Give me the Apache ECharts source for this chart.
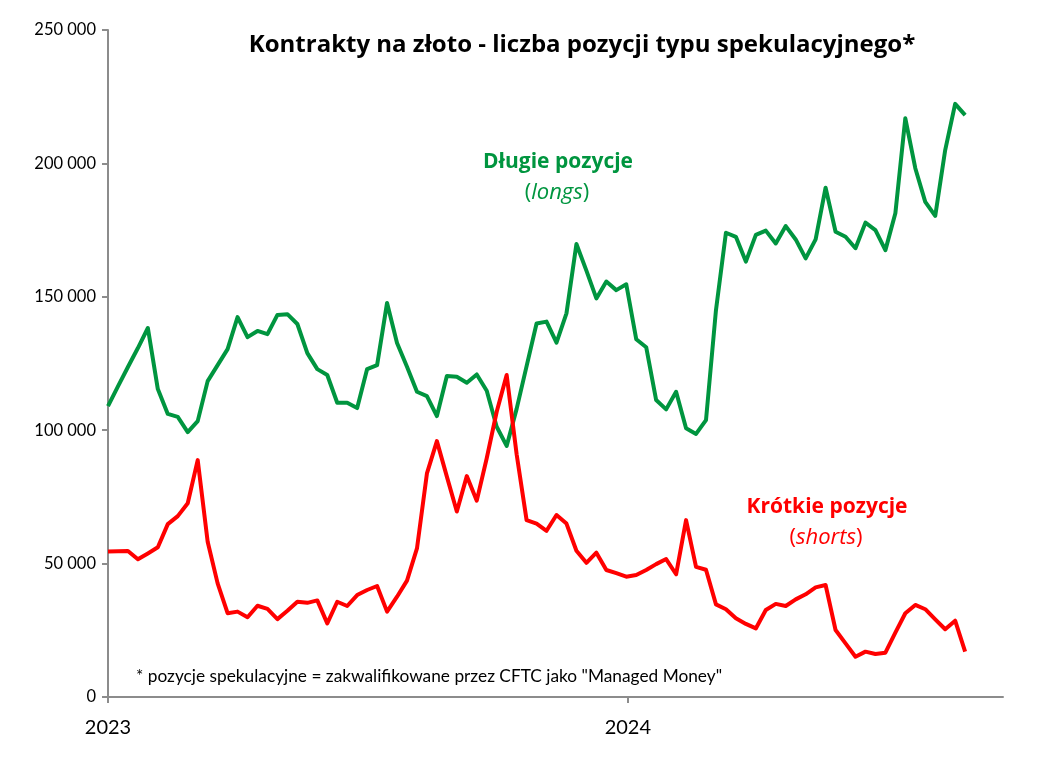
<!DOCTYPE html>
<html>
<head>
<meta charset="utf-8">
<script src="https://cdn.jsdelivr.net/npm/echarts@6/dist/echarts.min.js"></script>
<style>
html,body{margin:0;padding:0;background:#fff;}
#chart{width:1063px;height:768px;}
</style>
</head>
<body>
<div id="chart"></div>
<script>
// Weekly values, starting first week of 2023
const longs = [109000,116400,123700,130800,138300,115400,106100,105000,99300,103400,
118400,124400,130400,142400,134900,137200,136000,143200,143500,139800,
128900,122900,120700,110300,110300,108300,122900,124400,147700,132700,
123800,114400,112800,105300,120300,120000,117800,120900,114800,101300,
94100,108000,124000,140000,140700,132800,143800,169800,159800,149400,
155700,152500,154700,134100,131100,111300,107800,114400,100700,98600,
103800,145000,174000,172500,163200,173200,174800,170000,176500,171500,
164400,171500,190900,174400,172500,168200,177800,175000,167500,181300,
216900,198200,185600,180300,205000,222300,218100];
const shorts = [54500,54600,54700,51600,53800,56100,64800,67800,72600,88800,
58200,42600,31400,32000,29900,34200,33000,29200,32300,35700,
35300,36200,27600,35700,34100,38200,40100,41600,32000,37600,
43600,55700,83800,95900,82600,69500,82800,73600,89500,106900,
120700,91000,66300,65000,62300,68200,65000,54800,50300,54100,
47600,46400,45100,45700,47600,49800,51700,46000,66300,48800,
47700,34700,32900,29500,27400,25700,32600,34900,34100,36600,
38500,41100,42000,25100,20100,15100,17000,16100,16600,24100,
31400,34500,32900,29100,25400,28600,17000];
const yearTickPos = [0, 52.16];   // week index of 1 Jan
const yearLabels = ['2023', '2024'];

const GREEN = '#00953f';
const RED = '#ff0000';
const FONT = 'Lato, "Open Sans", sans-serif';
const FONT2 = '"Open Sans", Lato, sans-serif';

const chart = echarts.init(document.getElementById('chart'));
chart.setOption({
  backgroundColor: '#fff',
  animation: false,
  grid: {left: 108, right: 60, top: 30, bottom: 71},
  xAxis: {
    type: 'value', min: 0, max: 89.8,
    axisLine: {show: true, onZero: false, lineStyle: {color: '#8c8c8c', width: 2}},
    axisTick: {show: true, length: 6, customValues: yearTickPos, lineStyle: {color: '#8c8c8c', width: 2}},
    axisLabel: {
      customValues: yearTickPos,
      formatter: v => yearLabels[yearTickPos.indexOf(v)],
      fontFamily: FONT, fontSize: 20, color: '#000', margin: 21
    },
    splitLine: {show: false}
  },
  yAxis: {
    type: 'value', min: 0, max: 250000, interval: 50000,
    axisLine: {show: true, lineStyle: {color: '#8c8c8c', width: 2}},
    axisTick: {show: true, length: 6, lineStyle: {color: '#8c8c8c', width: 2}},
    axisLabel: {
      formatter: v => v === 0 ? '0' : String(v).replace(/\B(?=(\d{3})+(?!\d))/g, ' '),
      fontFamily: FONT, fontSize: 16.5, color: '#000', margin: 12
    },
    splitLine: {show: false}
  },
  series: [
    {type: 'line', data: longs.map((v, i) => [i, v]), showSymbol: false,
     lineStyle: {color: GREEN, width: 4, join: 'round'}, itemStyle: {color: GREEN}},
    {type: 'line', data: shorts.map((v, i) => [i, v]), showSymbol: false,
     lineStyle: {color: RED, width: 4, join: 'round'}, itemStyle: {color: RED}}
  ],
  graphic: [
    {type: 'text', style: {x: 582, y: 45, text: 'Kontrakty na złoto - liczba pozycji typu spekulacyjnego*',
      fontFamily: FONT2, fontSize: 24, fontWeight: 'bold', fill: '#000', align: 'center', verticalAlign: 'middle'}},
    {type: 'text', style: {x: 558, y: 162, text: 'Długie pozycje',
      fontFamily: FONT2, fontSize: 21, fontWeight: 'bold', fill: GREEN, align: 'center', verticalAlign: 'middle'}},
    {type: 'text', style: {x: 557, y: 193, text: '{n|(}{i|longs}{n|)}', align: 'center', verticalAlign: 'middle',
      rich: {n: {fontFamily: FONT2, fontSize: 22, fill: GREEN, color: GREEN},
             i: {fontFamily: FONT2, fontSize: 22, fontStyle: 'italic', fill: GREEN, color: GREEN}}}},
    {type: 'text', style: {x: 827, y: 507, text: 'Krótkie pozycje',
      fontFamily: FONT2, fontSize: 21, fontWeight: 'bold', fill: RED, align: 'center', verticalAlign: 'middle'}},
    {type: 'text', style: {x: 826, y: 538, text: '{n|(}{i|shorts}{n|)}', align: 'center', verticalAlign: 'middle',
      rich: {n: {fontFamily: FONT2, fontSize: 22, fill: RED, color: RED},
             i: {fontFamily: FONT2, fontSize: 22, fontStyle: 'italic', fill: RED, color: RED}}}},
    {type: 'text', style: {x: 136, y: 676, text: '* pozycje spekulacyjne = zakwalifikowane przez CFTC jako "Managed Money"',
      fontFamily: FONT, fontSize: 17.3, fill: '#000', align: 'left', verticalAlign: 'middle'}}
  ]
});
</script>
</body>
</html>
